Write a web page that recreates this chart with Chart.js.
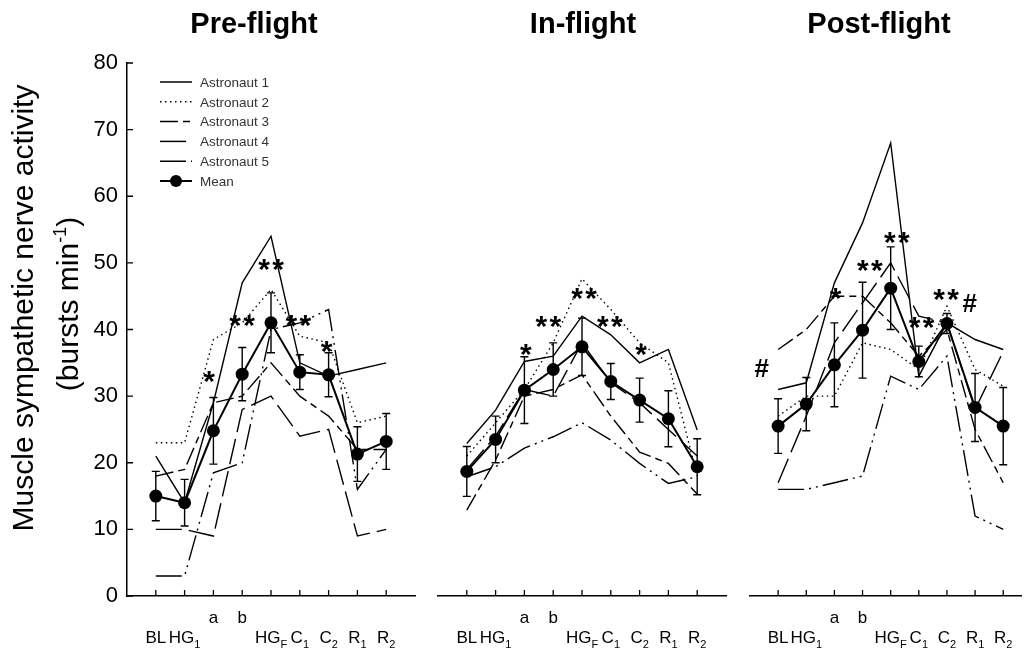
<!DOCTYPE html>
<html>
<head>
<meta charset="utf-8">
<script src="https://cdn.jsdelivr.net/npm/chart.js@4.4.0/dist/chart.umd.min.js"></script>
<style>
  html, body { margin: 0; padding: 0; background: #fff; overflow: hidden; width: 1028px; height: 653px; }
  .panel { position: absolute; top: 0; height: 653px; }
</style>
</head>
<body>
<div class="panel" style="left:0;width:430px"><canvas id="chart-pre"></canvas></div>
<div class="panel" style="left:430px;width:310px"><canvas id="chart-in"></canvas></div>
<div class="panel" style="left:740px;width:288px"><canvas id="chart-post"></canvas></div>
<script>
// x categories (index 0..8), drawn as two rows with subscripts
const labelMain = ['BL', 'HG', '', '', 'HG', 'C', 'C', 'R', 'R'];
const labelSub  = ['', '1', '', '', 'F', '1', '2', '1', '2'];
const labelTop  = ['', '', 'a', 'b', '', '', '', '', ''];
const yTicks = [0, 10, 20, 30, 40, 50, 60, 70, 80];
const seriesNames = ['Astronaut 1', 'Astronaut 2', 'Astronaut 3', 'Astronaut 4', 'Astronaut 5', 'Mean'];

// Pre-flight
const preA1 = [21, 14, 29, 47, 54, 35, 33, 34, 35];
const preA2 = [23, 23, 38.5, 41, 46, 39, 38, 26, 27];
const preA3 = [18, 19, 29, 30, 35, 30, 27, 22, 22];
const preA4 = [10, 10, 9, 28, 30, 24, 25, 9, 10];
const preA5 = [3, 3, 18.5, 20, 40, 41, 43, 16, 22];
const preMean = [15, 14, 24.8, 33.3, 41, 33.6, 33.2, 21.3, 23.2];
const preErr = [3.7, 3.5, 5, 4, 4.5, 2.6, 3.3, 4.1, 4.2];
const preMarks = [[1.85, 33.3, '*'], [3, 41.7, '**'], [4, 50.1, '**'], [4.95, 41.7, '**'], [5.93, 37.8, '*']];

// In-flight
const inA1 = [22.9, 27.9, 35.2, 36, 42, 39.2, 35, 37, 24.9];
const inA2 = [21, 26, 31, 38, 47.6, 43, 38, 35, 18];
const inA3 = [12.9, 20.4, 30, 31, 33.2, 27, 21.6, 19.9, 15.3];
const inA4 = [19, 24, 31, 30, 38, 32, 29, 25, 21];
const inA5 = [17.9, 19.4, 22.2, 23.9, 26, 23.4, 19.9, 16.9, 17.9];
const inMean = [18.7, 23.5, 30.9, 34, 37.4, 32.2, 29.4, 26.6, 19.4];
const inErr = [3.75, 3.5, 5, 4, 4.3, 2.7, 3.3, 4.2, 4.2];
const inMarks = [[2.05, 37.4, '*'], [2.83, 41.6, '**'], [4.07, 45.8, '**'], [4.97, 41.6, '**'], [6.05, 37.4, '*']];

// Post-flight
const postA1 = [31, 32, 47, 56, 68, 33, 41, 38.5, 37];
const postA2 = [27, 30, 30, 38, 37, 34, 43.5, 34, 31.5];
const postA3 = [37, 40, 45, 45, 41, 36, 40, 25, 17];
const postA4 = [17, 27, 38, 44, 50, 42, 41, 28, 36.7];
const postA5 = [16, 16, 17, 18, 33, 31, 36, 12, 10];
const postMean = [25.5, 28.8, 34.7, 39.9, 46.2, 35.2, 40.9, 28.3, 25.5];
const postErr = [4.1, 4, 6.3, 7.2, 6.2, 2.3, 1.5, 5.1, 5.8];
const postMarks = [[2.04, 45.8, '*'], [3.26, 50, '**'], [4.22, 54.2, '**'], [5.1, 41.4, '**'], [5.97, 45.6, '**'], [6.81, 44.1, '#'], [-0.58, 34.3, '#']];

const FONT = "'Liberation Sans', Arial, sans-serif";
const dashes = [[], [1.5, 3.5], [18, 5, 7, 5], [26, 7], [26, 5, 2, 5, 2, 5]];

const toXY = arr => arr.map((v, i) => ({ x: i, y: v }));

// title, inward tick marks, two-row x labels, error bars and significance marks
const panelDecor = {
    id: 'panelDecor',
    afterDatasetsDraw(chart) {
        const { ctx, scales: { x, y } } = chart;
        const o = chart.options.plugins.panelDecor;
        ctx.save();
        ctx.strokeStyle = '#000';
        ctx.fillStyle = '#000';
        ctx.lineWidth = 1.4;
        ctx.beginPath();
        o.mean.forEach((m, i) => {
            const px = x.getPixelForValue(i);
            const top = y.getPixelForValue(m + o.err[i]);
            const bot = y.getPixelForValue(m - o.err[i]);
            ctx.moveTo(px, top); ctx.lineTo(px, bot);
            ctx.moveTo(px - 4, top); ctx.lineTo(px + 4, top);
            ctx.moveTo(px - 4, bot); ctx.lineTo(px + 4, bot);
        });
        ctx.stroke();
        o.marks.forEach(([xi, v, t]) => {
            const px = x.getPixelForValue(xi);
            const py = y.getPixelForValue(v);
            ctx.textAlign = 'center';
            ctx.textBaseline = 'alphabetic';
            if (t === '#') {
                ctx.font = 'bold 26px ' + FONT;
                ctx.fillText('#', px, py + 9.5);
            } else {
                ctx.font = 'bold 30px ' + FONT;
                const n = t.length;
                for (let k = 0; k < n; k++) {
                    ctx.fillText('*', px + (k - (n - 1) / 2) * 14, py + 17);
                }
            }
        });
        ctx.restore();
    },
    afterDraw(chart) {
        const { ctx, chartArea: a, scales: { x, y } } = chart;
        const o = chart.options.plugins.panelDecor;
        ctx.save();
        ctx.fillStyle = '#000';
        ctx.font = 'bold 29px ' + FONT;
        ctx.textAlign = 'center';
        ctx.textBaseline = 'alphabetic';
        ctx.fillText(o.title, o.titleX, 33);

        ctx.strokeStyle = '#000';
        ctx.lineWidth = 1.3;
        ctx.beginPath();
        labelMain.forEach((_, i) => {
            const px = x.getPixelForValue(i);
            ctx.moveTo(px, a.bottom); ctx.lineTo(px, a.bottom - 6);
        });
        if (y.options.display) {
            yTicks.forEach(v => {
                const py = y.getPixelForValue(v);
                ctx.moveTo(a.left, py); ctx.lineTo(a.left + 6, py);
            });
        }
        ctx.stroke();
        labelMain.forEach((t, i) => {
            const px = x.getPixelForValue(i);
            if (labelTop[i]) {
                ctx.font = '17px ' + FONT;
                ctx.textAlign = 'center';
                ctx.fillText(labelTop[i], px, a.bottom + 27);
            }
            if (t) {
                ctx.font = '17px ' + FONT;
                const w1 = ctx.measureText(t).width;
                ctx.font = '11px ' + FONT;
                const w2 = ctx.measureText(labelSub[i]).width;
                const left = px - (w1 + w2) / 2;
                ctx.textAlign = 'left';
                ctx.font = '17px ' + FONT;
                ctx.fillText(t, left, a.bottom + 47);
                ctx.font = '11px ' + FONT;
                ctx.fillText(labelSub[i], left + w1, a.bottom + 52);
            }
        });
        ctx.restore();
    }
};

// y-axis title and legend, first panel only
const firstPanelExtras = {
    id: 'firstPanelExtras',
    afterDraw(chart) {
        const { ctx } = chart;
        ctx.save();
        ctx.fillStyle = '#000';
        ctx.textBaseline = 'alphabetic';
        ctx.font = '30px ' + FONT;
        ctx.translate(33, 308);
        ctx.rotate(-Math.PI / 2);
        ctx.textAlign = 'center';
        ctx.fillText('Muscle sympathetic nerve activity', 0, 0);
        ctx.restore();

        ctx.save();
        ctx.fillStyle = '#000';
        ctx.textBaseline = 'alphabetic';
        ctx.translate(78, 304);
        ctx.rotate(-Math.PI / 2);
        ctx.textAlign = 'left';
        ctx.font = '30px ' + FONT;
        const wa = ctx.measureText('(bursts min').width;
        const wc = ctx.measureText(')').width;
        ctx.font = '18px ' + FONT;
        const wb = ctx.measureText('-1').width;
        const x0 = -(wa + wb + wc) / 2;
        ctx.font = '30px ' + FONT;
        ctx.fillText('(bursts min', x0, 0);
        ctx.fillText(')', x0 + wa + wb, 0);
        ctx.font = '18px ' + FONT;
        ctx.fillText('-1', x0 + wa, -12);
        ctx.restore();

        ctx.save();
        ctx.font = '13.5px ' + FONT;
        ctx.textBaseline = 'middle';
        ctx.textAlign = 'left';
        seriesNames.forEach((name, k) => {
            const ly = 82 + k * 19.8;
            ctx.strokeStyle = '#000';
            ctx.lineWidth = k === 5 ? 2 : 1.5;
            ctx.setLineDash(k === 5 ? [] : dashes[k]);
            ctx.beginPath();
            ctx.moveTo(160, ly); ctx.lineTo(192, ly);
            ctx.stroke();
            if (k === 5) {
                ctx.fillStyle = '#000';
                ctx.beginPath();
                ctx.arc(176, ly, 6, 0, Math.PI * 2);
                ctx.fill();
            }
            ctx.fillStyle = '#333';
            ctx.fillText(name, 200, ly + 1);
        });
        ctx.restore();
    }
};

function makePanel(id, title, series, mean, err, marks, layout) {
    const datasets = [{
        label: 'Mean',
        data: toXY(mean),
        borderColor: '#000',
        backgroundColor: '#000',
        borderWidth: 2,
        pointRadius: 6.5,
        pointBackgroundColor: '#000',
        pointBorderWidth: 0
    }];
    series.forEach((s, k) => datasets.push({
        label: seriesNames[k],
        data: toXY(s),
        borderColor: '#000',
        borderWidth: 1.4,
        borderDash: dashes[k],
        pointRadius: 0
    }));

    return new Chart(document.getElementById(id), {
        type: 'line',
        data: { datasets },
        plugins: layout.first ? [panelDecor, firstPanelExtras] : [panelDecor],
        options: {
            responsive: true,
            maintainAspectRatio: false,
            animation: false,
            layout: { padding: layout.padding },
            plugins: {
                legend: { display: false },
                tooltip: { enabled: false },
                title: { display: false },
                panelDecor: { mean, err, marks, title, titleX: layout.titleX }
            },
            scales: {
                x: {
                    type: 'linear',
                    min: -1,
                    max: layout.xMax,
                    ticks: { display: false },
                    grid: { display: false, drawTicks: false },
                    border: { color: '#000', width: 1.5 },
                    afterFit: s => { s.height = 57; }
                },
                y: {
                    display: layout.first,
                    min: 0,
                    max: 80,
                    ticks: { stepSize: 10, color: '#000', padding: 9, font: { family: FONT, size: 22 } },
                    grid: { display: false, drawTicks: false },
                    border: { color: '#000', width: 1.5 },
                    afterFit: s => { s.width = layout.first ? 127 : 0; }
                }
            }
        }
    });
}

makePanel('chart-pre', 'Pre-flight', [preA1, preA2, preA3, preA4, preA5], preMean, preErr, preMarks,
    { first: true, xMax: 9, titleX: 254, padding: { left: 0, right: 15, top: 63, bottom: 0 } });
makePanel('chart-in', 'In-flight', [inA1, inA2, inA3, inA4, inA5], inMean, inErr, inMarks,
    { first: false, xMax: 9, titleX: 153, padding: { left: 8, right: 14, top: 63, bottom: 0 } });
makePanel('chart-post', 'Post-flight', [postA1, postA2, postA3, postA4, postA5], postMean, postErr, postMarks,
    { first: false, xMax: 8.65, titleX: 139, padding: { left: 10, right: 0, top: 63, bottom: 0 } });
</script>
</body>
</html>
